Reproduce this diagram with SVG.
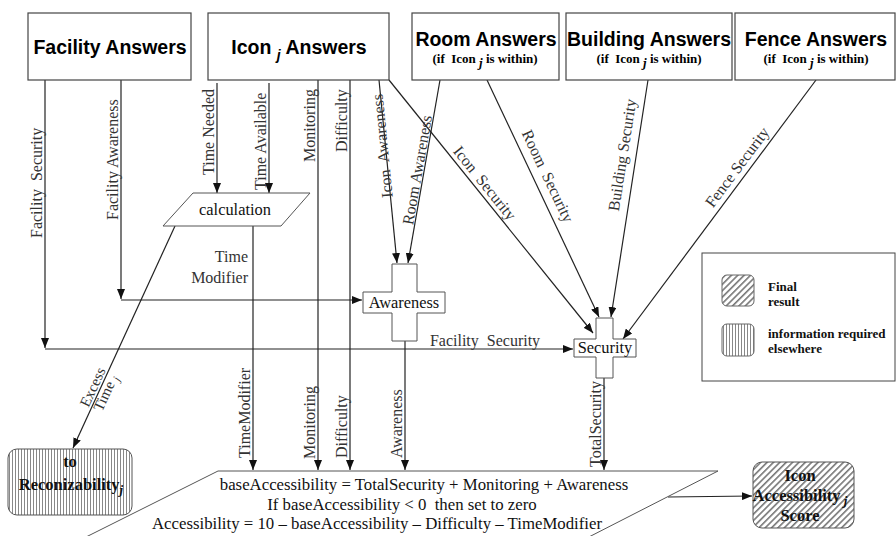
<svg xmlns="http://www.w3.org/2000/svg" width="896" height="536" viewBox="0 0 896 536">
<style>
text{white-space:pre}
.box{fill:#fff;stroke:#444;stroke-width:1.2}
.title{font-family:"Liberation Sans",Arial,sans-serif;font-weight:bold;font-size:19.5px;fill:#000;text-anchor:middle}
.sub{font-family:"Liberation Serif","Times New Roman",serif;font-weight:bold;font-size:13px;fill:#000;text-anchor:middle}
.edge{fill:none;stroke:#222;stroke-width:1.2}
.lbl{font-family:"Liberation Serif","Times New Roman",serif;font-size:16px;fill:#333}
.mid{text-anchor:middle}
.shape{fill:#fff;stroke:#555;stroke-width:1}
.node{font-family:"Liberation Serif","Times New Roman",serif;font-size:16.4px;fill:#111;text-anchor:middle}
.bold{font-family:"Liberation Serif","Times New Roman",serif;font-weight:bold;font-size:16.5px;fill:#111;text-anchor:middle}
.leg{font-family:"Liberation Serif","Times New Roman",serif;font-weight:bold;font-size:13px;fill:#111}
.formula{font-family:"Liberation Serif","Times New Roman",serif;font-size:16.8px;fill:#111;text-anchor:middle}
</style>
<defs>
<marker id="ah" markerWidth="10" markerHeight="8" refX="10" refY="4" orient="auto" markerUnits="userSpaceOnUse"><path d="M0,0 L10,4 L0,8 z" fill="#111"/></marker>
<pattern id="diag" patternUnits="userSpaceOnUse" width="4.5" height="4.5" patternTransform="rotate(45)"><rect width="4.5" height="4.5" fill="#fff"/><rect x="0" y="0" width="1.6" height="4.5" fill="#777"/></pattern>
<pattern id="vert" patternUnits="userSpaceOnUse" width="3" height="10"><rect width="3" height="10" fill="#fff"/><rect x="0" y="0" width="1" height="10" fill="#888"/></pattern>
</defs>
<rect width="896" height="536" fill="#fff"/>

<g id="connectors">
<path class="edge" d="M45,80 V348" marker-end="url(#ah)"/>
<path class="edge" d="M45,349 H573" marker-end="url(#ah)"/>
<path class="edge" d="M121,80 V299" marker-end="url(#ah)"/>
<path class="edge" d="M121,300 H362" marker-end="url(#ah)"/>
<path class="edge" d="M217,83 V193" marker-end="url(#ah)"/>
<path class="edge" d="M269,83 V193" marker-end="url(#ah)"/>
<path class="edge" d="M318,80 V470" marker-end="url(#ah)"/>
<path class="edge" d="M350,80 V470" marker-end="url(#ah)"/>
<path class="edge" d="M379,80 L397,263" marker-end="url(#ah)"/>
<path class="edge" d="M440,80 L408,263" marker-end="url(#ah)"/>
<path class="edge" d="M389,80 L593,333" marker-end="url(#ah)"/>
<path class="edge" d="M487,80 L599,317" marker-end="url(#ah)"/>
<path class="edge" d="M648,80 L611,317" marker-end="url(#ah)"/>
<path class="edge" d="M816,80 L623,339" marker-end="url(#ah)"/>
<path class="edge" d="M253,226 V470" marker-end="url(#ah)"/>
<path class="edge" d="M175,226 L73,448" marker-end="url(#ah)"/>
<path class="edge" d="M405,341 V470" marker-end="url(#ah)"/>
<path class="edge" d="M604,378 V470" marker-end="url(#ah)"/>
<path class="edge" d="M668,497 L752,496" marker-end="url(#ah)"/>

<text class="lbl" transform="translate(42,238) rotate(-90)">Facility  Security</text>
<text class="lbl" transform="translate(118,220) rotate(-90)">Facility Awareness</text>
<text class="lbl" transform="translate(214,175) rotate(-90)">Time Needed</text>
<text class="lbl" transform="translate(266,190) rotate(-90)">Time Available</text>
<text class="lbl" transform="translate(315,162) rotate(-90)">Monitoring</text>
<text class="lbl" transform="translate(347,152) rotate(-90)">Difficulty</text>
<text class="lbl mid" transform="translate(382,146) rotate(-95.6)" dy="0.35em">Icon  Awareness</text>
<text class="lbl mid" transform="translate(417,170) rotate(-80)" dy="0.35em">Room Awareness</text>
<text class="lbl mid" transform="translate(485,183) rotate(51.1)" dy="0.35em">Icon  Security</text>
<text class="lbl mid" transform="translate(548,176) rotate(64.6)" dy="0.35em">Room  Security</text>
<text class="lbl mid" transform="translate(622,155) rotate(-81.1)" dy="0.35em">Building Security</text>
<text class="lbl mid" transform="translate(737,167) rotate(-53.2)" dy="0.35em">Fence Security</text>
<text class="lbl" x="248" y="262" text-anchor="end">Time</text>
<text class="lbl" x="248" y="283" text-anchor="end">Modifier</text>
<text class="lbl" x="485" y="346" text-anchor="middle">Facility  Security</text>
<g transform="translate(99,390) rotate(-65.2)">
<text class="lbl mid" x="0" y="-2" style="font-size:15px">Excess</text>
<text class="lbl mid" x="0" y="12" style="font-size:15px">Time <tspan font-style="italic" font-size="11" dy="3">j</tspan></text>
</g>
<text class="lbl" transform="translate(250,458) rotate(-90)">TimeModifier</text>
<text class="lbl" transform="translate(315,459) rotate(-90)">Monitoring</text>
<text class="lbl" transform="translate(347,458) rotate(-90)">Difficulty</text>
<text class="lbl" transform="translate(402,458) rotate(-90)">Awareness</text>
<text class="lbl" transform="translate(601,467) rotate(-90)">TotalSecurity</text>
</g>

<g id="facility-answers">
<rect class="box" x="28" y="13" width="163" height="67"/>
<text class="title" x="110" y="54">Facility Answers</text>
</g>
<g id="icon-answers">
<rect class="box" x="208" y="13" width="181" height="67"/>
<text class="title" x="299" y="54">Icon <tspan font-style="italic" font-size="14" dy="6">j</tspan><tspan dy="-6"> Answers</tspan></text>
</g>
<g id="room-answers">
<rect class="box" x="412" y="13" width="147" height="67"/>
<text class="title" x="486" y="46">Room Answers</text>
<text class="sub" x="485" y="63">(if  Icon <tspan font-style="italic" dy="4">j</tspan><tspan dy="-4"> is within)</tspan></text>
</g>
<g id="building-answers">
<rect class="box" x="566" y="13" width="166" height="67"/>
<text class="title" x="649" y="46">Building Answers</text>
<text class="sub" x="649" y="63">(if  Icon <tspan font-style="italic" dy="4">j</tspan><tspan dy="-4"> is within)</tspan></text>
</g>
<g id="fence-answers">
<rect class="box" x="735" y="13" width="160" height="67"/>
<text class="title" x="816" y="46">Fence Answers</text>
<text class="sub" x="816" y="63">(if  Icon <tspan font-style="italic" dy="4">j</tspan><tspan dy="-4"> is within)</tspan></text>
</g>

<g id="calculation">
<polygon class="shape" points="193,193 310,193 281,226 163,226"/>
<text class="node" x="235" y="215">calculation</text>
</g>

<g id="awareness">
<path class="shape" d="M392,264 H417 V292 H445 V313 H417 V341 H392 V313 H363 V292 H392 Z"/>
<text class="node" x="404" y="308">Awareness</text>
</g>

<g id="security">
<path class="shape" d="M596,318 H613 V339 H636 V357 H613 V378 H596 V357 H574 V339 H596 Z"/>
<text class="node" x="605" y="353">Security</text>
</g>

<g id="accessibility-formula">
<polygon class="shape" points="218,471 718,471 583,540 80,540"/>
<text class="formula" x="424" y="490">baseAccessibility = TotalSecurity + Monitoring + Awareness</text>
<text class="formula" x="402" y="510">If baseAccessibility &lt; 0  then set to zero</text>
<text class="formula" x="377" y="529">Accessibility = 10 – baseAccessibility – Difficulty – TimeModifier</text>
</g>

<g id="to-reconizability">
<rect x="8" y="449" width="124" height="66" rx="9" fill="url(#vert)" stroke="#555" stroke-width="1"/>
<text class="bold" x="70" y="467">to</text>
<text class="bold" x="71" y="490">Reconizability<tspan font-style="italic" font-size="13" dy="4">j</tspan></text>
</g>

<g id="icon-accessibility-score">
<rect x="753" y="462" width="101" height="66" rx="9" fill="url(#diag)" stroke="#555" stroke-width="1"/>
<text class="bold" x="800" y="481">Icon</text>
<text class="bold" x="800" y="501">Accessibility<tspan font-style="italic" font-size="13" dy="4"> j</tspan></text>
<text class="bold" x="800" y="521">Score</text>
</g>

<g id="legend">
<rect x="702" y="253" width="193" height="128" fill="#fff" stroke="#444" stroke-width="1"/>
<rect x="722" y="275" width="32" height="31" rx="5" fill="url(#diag)" stroke="#666" stroke-width="1"/>
<text class="leg" x="768" y="291">Final</text>
<text class="leg" x="768" y="306">result</text>
<rect x="722" y="324" width="32" height="32" rx="5" fill="url(#vert)" stroke="#666" stroke-width="1"/>
<text class="leg" x="768" y="338">information required</text>
<text class="leg" x="768" y="353">elsewhere</text>
</g>
</svg>
